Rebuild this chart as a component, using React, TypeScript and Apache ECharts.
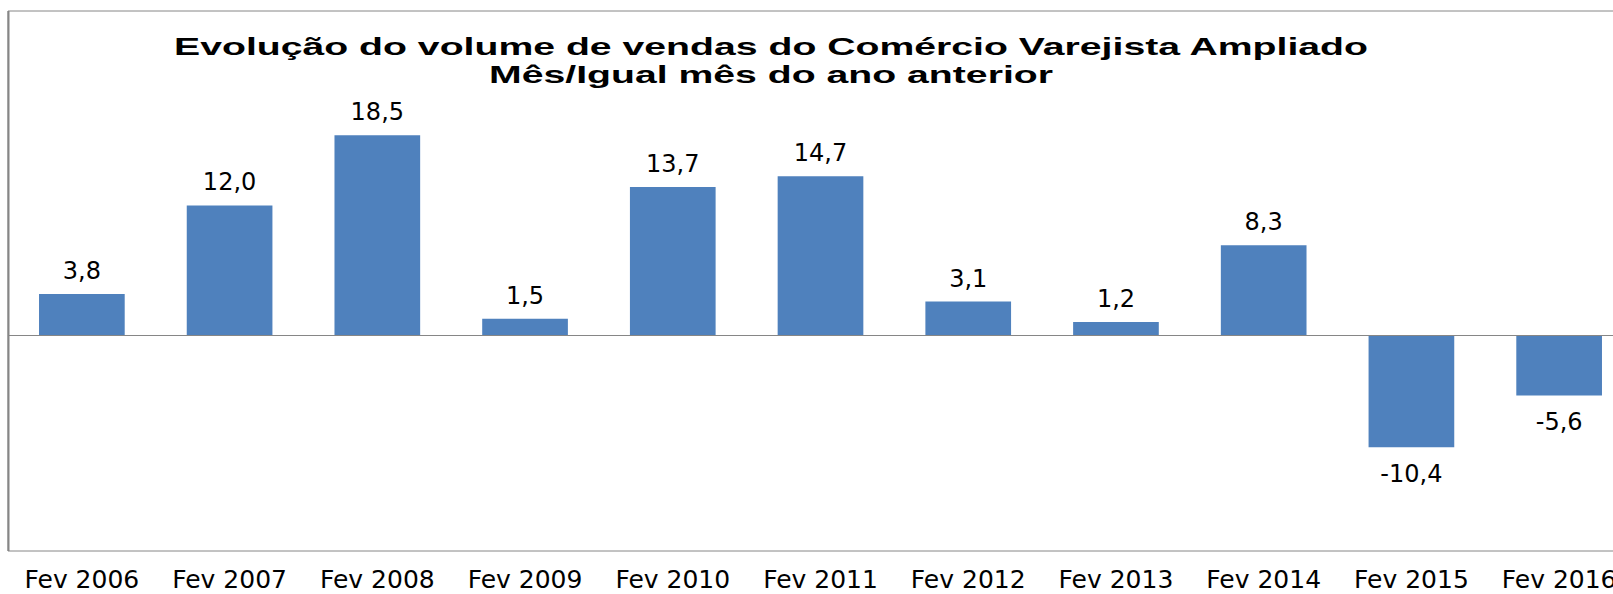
import React, { useEffect, useRef } from "react";
import * as echarts from "echarts";

const categories = [
  "Fev 2006", "Fev 2007", "Fev 2008", "Fev 2009", "Fev 2010", "Fev 2011",
  "Fev 2012", "Fev 2013", "Fev 2014", "Fev 2015", "Fev 2016",
];
const values = [3.8, 12.0, 18.5, 1.5, 13.7, 14.7, 3.1, 1.2, 8.3, -10.4, -5.6];
const titleLines = [
  "Evolução do volume de vendas do Comércio Varejista Ampliado",
  "Mês/Igual mês do ano anterior",
];
const yMin = -20;
const yMax = 30;

export default function App() {
  const ref = useRef<HTMLDivElement>(null);
  useEffect(() => {
    if (!ref.current) return;
    const chart = echarts.init(ref.current, null, { renderer: "svg" });
    const fmt = (v: number) => v.toFixed(1).replace(".", ",");
    chart.setOption({
      animation: false,
      backgroundColor: "#ffffff",
      grid: {
        left: 8,
        top: 11,
        width: 1625,
        height: 540,
        outerBoundsMode: "none",
        containLabel: false,
        show: true,
        borderColor: "#868686",
        borderWidth: 1,
        backgroundColor: "transparent",
      },
      xAxis: {
        type: "category",
        data: categories,
        axisLine: { show: false, onZero: false },
        axisTick: { show: false },
        axisLabel: {
          interval: 0,
          margin: 16,
          color: "#000000",
          fontFamily: "DejaVu Sans",
          fontSize: 25,
          lineHeight: 25,
        },
      },
      yAxis: {
        type: "value",
        min: yMin,
        max: yMax,
        show: false,
        splitLine: { show: false },
      },
      series: [
        {
          type: "bar",
          barCategoryGap: "42%",
          itemStyle: { color: "#4F81BD" },
          data: values.map((v) => ({
            value: v,
            label: {
              position: v < 0 ? "bottom" : "top",
              distance: v < 0 ? 15 : 11,
            },
          })),
          label: {
            show: true,
            color: "#000000",
            fontFamily: "DejaVu Sans",
            fontSize: 24,
            formatter: (p: any) => fmt(p.value),
          },
          markLine: {
            silent: true,
            symbol: "none",
            label: { show: false },
            lineStyle: { color: "#868686", width: 1, type: "solid" },
            data: [{ yAxis: 0 }],
          },
        },
      ],
      graphic: [
        {
          type: "line",
          silent: true,
          shape: { x1: 8.5, y1: 11, x2: 8.5, y2: 551 },
          style: { stroke: "#868686", lineWidth: 2 },
        },
        {
          type: "text",
          x: 771,
          y: 32,
          scaleX: 1.6,
          style: {
            text: titleLines.join("\n"),
            fontFamily: "Liberation Sans",
            fontWeight: "bold",
            fontSize: 24.5,
            lineHeight: 28,
            fill: "#000000",
            textAlign: "center",
            textVerticalAlign: "top",
          },
        },
      ],
    });
    return () => chart.dispose();
  }, []);
  return (
    <div
      ref={ref}
      style={{ position: "absolute", left: 0, top: 0, width: 1613, height: 594 }}
    />
  );
}
